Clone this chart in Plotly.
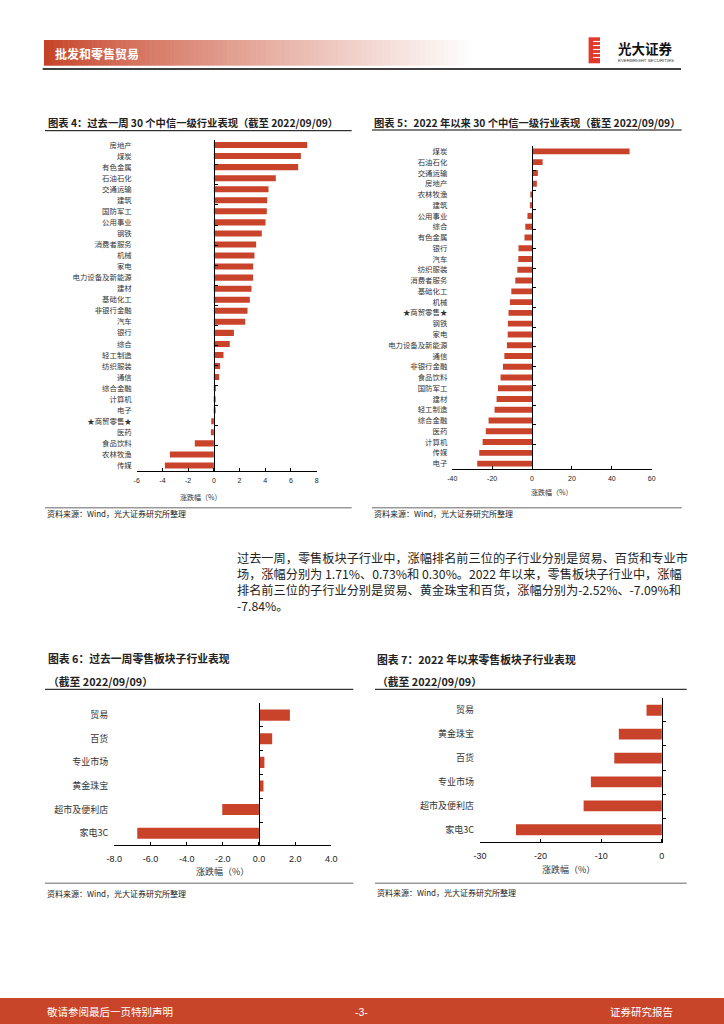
import plotly.graph_objects as go

W, H = 724, 1024
def PX(x): return x / W
def PY(y): return 1 - y / H

BAR = '#C9432A'
RED = '#C8452A'
CJK = 'Noto Sans CJK SC'
LAT = 'Liberation Sans'

# ---------------- data ----------------
week_ind = ['房地产', '煤炭', '有色金属', '石油石化', '交通运输', '建筑', '国防军工', '公用事业', '钢铁',
            '消费者服务', '机械', '家电', '电力设备及新能源', '建材', '基础化工', '非银行金融', '汽车', '银行',
            '综合', '轻工制造', '纺织服装', '通信', '综合金融', '计算机', '电子', '★商贸零售★', '医药',
            '食品饮料', '农林牧渔', '传媒']
week_chg = [7.26, 6.77, 6.56, 4.82, 4.25, 4.15, 4.12, 4.02, 3.73, 3.29, 3.16, 3.06, 3.05, 2.93, 2.80,
            2.62, 2.44, 1.56, 1.24, 0.75, 0.49, 0.41, 0.16, 0.08, 0.07, -0.20, -0.23, -1.48, -3.42, -3.81]
week_ticks = [-6, -4, -2, 0, 2, 4, 6, 8]

ytd_ind = ['煤炭', '石油石化', '交通运输', '房地产', '农林牧渔', '建筑', '公用事业', '综合', '有色金属', '银行',
           '汽车', '纺织服装', '消费者服务', '基础化工', '机械', '★商贸零售★', '钢铁', '家电', '电力设备及新能源',
           '通信', '非银行金融', '食品饮料', '国防军工', '建材', '轻工制造', '综合金融', '医药', '计算机', '传媒', '电子']
ytd_chg = [48.9, 5.3, 2.9, 2.4, -0.5, -1.1, -2.3, -3.4, -3.8, -6.8, -6.9, -7.4, -8.4, -10.4, -11.1, -11.8,
           -12.1, -12.2, -12.6, -13.9, -14.6, -15.8, -17.1, -17.8, -18.8, -21.8, -23.2, -24.8, -26.5, -27.5]
ytd_ticks = [-40, -20, 0, 20, 40, 60]

retail_week_cat = ['贸易', '百货', '专业市场', '黄金珠宝', '超市及便利店', '家电3C']
retail_week_chg = [1.71, 0.73, 0.30, 0.25, -2.03, -6.73]
retail_week_ticks = [-8.0, -6.0, -4.0, -2.0, 0.0, 2.0, 4.0]

retail_ytd_cat = ['贸易', '黄金珠宝', '百货', '专业市场', '超市及便利店', '家电3C']
retail_ytd_chg = [-2.52, -7.09, -7.84, -11.7, -12.9, -24.06]
retail_ytd_ticks = [-30, -20, -10, 0]

fig = go.Figure()
layout = {}
shapes = []
annos = []

charts = [
    dict(cats=week_ind, vals=week_chg, xd=(136.7, 316.7), yd=(139.5, 471), xr=[-6, 8],
         tv=week_ticks, tt=[str(v) for v in week_ticks], cf=7.4, tf=7, bw=0.55, xs=3, ys=4),
    dict(cats=ytd_ind, vals=ytd_chg, xd=(452.3, 651.7), yd=(146, 469), xr=[-40, 60],
         tv=ytd_ticks, tt=[str(v) for v in ytd_ticks], cf=7.4, tf=7, bw=0.55, xs=3, ys=4),
    dict(cats=retail_week_cat, vals=retail_week_chg, xd=(114.3, 331.3), yd=(703.3, 845), xr=[-8, 4],
         tv=retail_week_ticks, tt=['%.1f' % v for v in retail_week_ticks], cf=9, tf=9, bw=0.47, xs=5, ys=5),
    dict(cats=retail_ytd_cat, vals=retail_ytd_chg, xd=(480, 663.3), yd=(698.3, 841.7), xr=[-30, 0.25],
         tv=retail_ytd_ticks, tt=[str(v) for v in retail_ytd_ticks], cf=9, tf=9, bw=0.45, xs=5, ys=5),
]

for i, c in enumerate(charts):
    xi = i + 1
    ym = 2 * i + 1
    yo = 2 * i + 2
    xname = 'x' if xi == 1 else f'x{xi}'
    ymname = 'y' if ym == 1 else f'y{ym}'
    yoname = f'y{yo}'
    xkey = 'xaxis' if xi == 1 else f'xaxis{xi}'
    ymkey = 'yaxis' if ym == 1 else f'yaxis{ym}'
    yokey = f'yaxis{yo}'
    fig.add_trace(go.Bar(x=c['vals'], y=c['cats'], orientation='h', marker=dict(color=BAR, line=dict(width=0)),
                         width=c['bw'], xaxis=xname, yaxis=ymname, showlegend=False, hoverinfo='skip'))
    fig.add_trace(go.Scatter(x=[0] * len(c['cats']), y=c['cats'], mode='markers', marker=dict(opacity=0),
                             xaxis=xname, yaxis=yoname, showlegend=False, hoverinfo='skip'))
    x0, x1 = c['xd']
    y0, y1 = c['yd']
    layout[xkey] = dict(domain=[PX(x0), PX(x1)], range=c['xr'], anchor=ymname, showgrid=False, zeroline=False,
                        showline=True, linecolor='black', linewidth=1, ticks='inside', ticklen=3,
                        tickcolor='black', tickvals=c['tv'], ticktext=c['tt'], ticklabelstandoff=c['xs'],
                        tickfont=dict(family=LAT, size=c['tf'], color='#222'), fixedrange=True)
    layout[ymkey] = dict(domain=[PY(y1), PY(y0)], anchor=xname, type='category', categoryarray=c['cats'],
                         categoryorder='array', autorange='reversed', showgrid=False, zeroline=False,
                         showline=False, ticks='', ticklabelstandoff=c['ys'],
                         tickfont=dict(family=CJK, size=c['cf'], color='#333'), fixedrange=True)
    zx = x0 + (0 - c['xr'][0]) / (c['xr'][1] - c['xr'][0]) * (x1 - x0)
    layout[yokey] = dict(overlaying=ymname, anchor='free', position=PX(zx), type='category',
                         categoryarray=c['cats'], categoryorder='array', autorange='reversed',
                         showgrid=False, zeroline=False, showline=True, linecolor='black', linewidth=1,
                         ticks='inside', ticklen=3, tickcolor='black', tickson='boundaries',
                         showticklabels=False, fixedrange=True)

def text(x, y, s, size, color='#222', family=CJK, anchor='left', bold=False):
    annos.append(dict(x=PX(x), y=PY(y), xref='paper', yref='paper', text=('<b>%s</b>' % s) if bold else s,
                      showarrow=False, xanchor=anchor, yanchor='middle', align='left',
                      font=dict(family=family, size=size, color=color)))

def hline(x0, x1, y, color='black', width=1):
    shapes.append(dict(type='line', xref='paper', yref='paper', x0=PX(x0), x1=PX(x1), y0=PY(y), y1=PY(y),
                       line=dict(color=color, width=width)))

def rect(x0, x1, y0, y1, color):
    shapes.append(dict(type='rect', xref='paper', yref='paper', x0=PX(x0), x1=PX(x1), y0=PY(y1), y1=PY(y0),
                       fillcolor=color, line=dict(width=0), layer='below'))

# ---------------- header ----------------
gx0, gx1, steps = 44, 478, 90
c0 = (198, 66, 38)
for k in range(steps):
    t = k / (steps - 1)
    tt = t ** 0.85
    col = tuple(int(round(c0[j] + (255 - c0[j]) * tt)) for j in range(3))
    xa = gx0 + (gx1 - gx0) * k / steps
    xb = gx0 + (gx1 - gx0) * (k + 1) / steps + 0.6
    rect(xa, xb, 40, 65.7, 'rgb(%d,%d,%d)' % col)
text(53.3, 53.3, '批发和零售贸易', 12, color='white', bold=True)
hline(42.7, 681, 69, 'black', 1.6)
# logo
rect(588.6, 600, 37.3, 63.3, '#E2392C')
for yy in [41.5, 45.5, 49.5, 53.5, 57.5]:
    hline(593, 600.5, yy, 'white', 1.1)
text(615.5, 48.3, '光大证券', 13.5, color='#111', bold=True)
text(616, 60.6, 'EVERBRIGHT SECURITIES', 4.4, color='#333', family=LAT)

# ---------------- chart titles / sources ----------------
text(45.7, 122, '图表 4：过去一周 30 个中信一级行业表现（截至 2022/09/09）', 10.3, bold=True)
hline(45, 351.7, 130.7, 'black', 1)
text(372.3, 122.3, '图表 5：2022 年以来 30 个中信一级行业表现（截至 2022/09/09）', 10.3, bold=True)
hline(372, 681.7, 130, 'black', 1)
text(200, 496.7, '涨跌幅（%）', 7, color='#333', anchor='center')
text(551.7, 491.7, '涨跌幅（%）', 7, color='#333', anchor='center')
hline(45, 351.7, 507.7, '#999', 1.6)
hline(372, 681.7, 507.7, '#999', 1.6)
text(45, 513.5, '资料来源：Wind，光大证券研究所整理', 8)
text(372, 513.5, '资料来源：Wind，光大证券研究所整理', 8)

# paragraph (one text block, wrapped lines)
para = ['过去一周，零售板块子行业中，涨幅排名前三位的子行业分别是贸易、百货和专业市',
        '场，涨幅分别为 1.71%、0.73%和 0.30%。2022 年以来，零售板块子行业中，涨幅',
        '排名前三位的子行业分别是贸易、黄金珠宝和百货，涨幅分别为-2.52%、-7.09%和',
        '-7.84%。']
text(235, 581.5, '<br>'.join(para), 12.2, color='#222')

text(45.7, 658.3, '图表 6：过去一周零售板块子行业表现', 10.8, bold=True)
text(46, 680.7, '（截至 2022/09/09）', 10.8, bold=True)
hline(45, 353.3, 689.3, 'black', 1)
text(375, 659, '图表 7：2022 年以来零售板块子行业表现', 10.8, bold=True)
text(375, 681, '（截至 2022/09/09）', 10.8, bold=True)
hline(375, 686.7, 689.3, 'black', 1)
text(222.5, 871.7, '涨跌幅（%）', 9, color='#333', anchor='center')
text(568.3, 869.3, '涨跌幅（%）', 9, color='#333', anchor='center')
hline(45, 353.3, 883.3, '#999', 1.6)
hline(375, 686.7, 883.3, '#999', 1.6)
text(45, 893.3, '资料来源：Wind，光大证券研究所整理', 8)
text(375, 892.5, '资料来源：Wind，光大证券研究所整理', 8)

# ---------------- footer ----------------
rect(0, 724, 998, 1024, RED)
text(45, 1011.5, '敬请参阅最后一页特别声明', 10.5, color='white')
text(361.5, 1011.5, '-3-', 10.5, color='white', family=LAT, anchor='center')
text(675, 1011.5, '证券研究报告', 10.5, color='white', anchor='right')

fig.update_layout(width=W, height=H, margin=dict(l=0, r=0, t=0, b=0), paper_bgcolor='white',
                  plot_bgcolor='white', template='none', shapes=shapes, annotations=annos,
                  showlegend=False, **layout)

fig.write_html('out.html', config={'displayModeBar': False},
               post_script="document.body.style.margin='0';document.body.style.overflow='hidden';")
